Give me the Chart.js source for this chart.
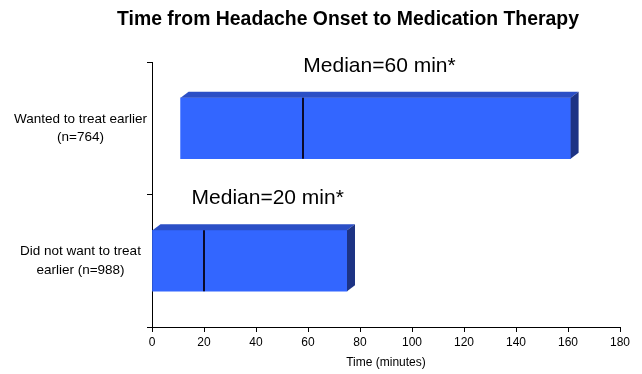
<!DOCTYPE html>
<html>
<head>
<meta charset="utf-8">
<script src="https://cdn.jsdelivr.net/npm/chart.js@4/dist/chart.umd.min.js"></script>
<style>
  html, body { margin: 0; padding: 0; background: #fff; }
  canvas { display: block; }
</style>
</head>
<body>
<canvas id="onset-chart" width="642" height="374"></canvas>
<script>
// data
const categories = [['Wanted to treat earlier', '(n=764)'], ['Did not want to treat', 'earlier (n=988)']];
const ranges = [[11, 161], [0, 75]];
const medians = [58, 20];
const medianLabels = ['Median=60 min*', 'Median=20 min*'];
const labelCenters = [87.5, 44.5]; // x value where each label is centred
const xTicks = [0, 20, 40, 60, 80, 100, 120, 140, 160, 180];

const FONT = '"Liberation Sans", Arial, Helvetica, sans-serif';

// draws the fake 3d faces, the median lines and the median labels
const boxes3d = {
  id: 'boxes3d',
  afterDatasetsDraw(chart) {
    const ctx = chart.ctx;
    const xs = chart.scales.x;
    const d = 8, dy = 6;
    chart.getDatasetMeta(0).data.forEach((bar, i) => {
      const p = bar.getProps(['x', 'y', 'base', 'height'], true);
      const left = Math.min(p.x, p.base), right = Math.max(p.x, p.base);
      const top = p.y - p.height / 2, bottom = p.y + p.height / 2;
      ctx.save();
      ctx.fillStyle = '#2b4fc6';
      ctx.beginPath();
      ctx.moveTo(left, top);
      ctx.lineTo(left + d, top - dy);
      ctx.lineTo(right + d, top - dy);
      ctx.lineTo(right, top);
      ctx.closePath();
      ctx.fill();
      ctx.fillStyle = '#1d3384';
      ctx.beginPath();
      ctx.moveTo(right, top);
      ctx.lineTo(right + d, top - dy);
      ctx.lineTo(right + d, bottom - dy);
      ctx.lineTo(right, bottom);
      ctx.closePath();
      ctx.fill();

      const mx = Math.round(xs.getPixelForValue(medians[i]));
      ctx.strokeStyle = '#0a0a2a';
      ctx.lineWidth = 2;
      ctx.beginPath();
      ctx.moveTo(mx, top);
      ctx.lineTo(mx, bottom);
      ctx.stroke();

      ctx.fillStyle = '#000';
      ctx.font = '21px ' + FONT;
      ctx.textAlign = 'center';
      ctx.textBaseline = 'alphabetic';
      ctx.fillText(medianLabels[i], xs.getPixelForValue(labelCenters[i]), top - 26);
      ctx.restore();
    });

    ctx.save();
    ctx.fillStyle = '#000';
    ctx.font = 'bold 19.4px ' + FONT;
    ctx.textAlign = 'center';
    ctx.textBaseline = 'alphabetic';
    ctx.fillText('Time from Headache Onset to Medication Therapy', 348, 25);
    ctx.restore();
  }
};

new Chart(document.getElementById('onset-chart'), {
  type: 'bar',
  data: {
    labels: categories,
    datasets: [{
      data: ranges,
      backgroundColor: '#3366ff',
      borderWidth: 0,
      barThickness: 61
    }]
  },
  plugins: [boxes3d],
  options: {
    indexAxis: 'y',
    responsive: false,
    animation: false,
    layout: {
      padding: { top: 62, right: 22, left: 0, bottom: 0 }
    },
    plugins: {
      legend: { display: false },
      tooltip: { enabled: false }
    },
    scales: {
      x: {
        type: 'linear',
        min: 0,
        max: 180,
        afterBuildTicks: (scale) => { scale.ticks = xTicks.map(v => ({ value: v })); },
        afterFit: (scale) => { scale.height = 47; },
        border: { color: '#000', width: 1 },
        grid: { drawOnChartArea: false, tickLength: 5, color: '#000' },
        ticks: { color: '#000', padding: 3, font: { family: FONT, size: 12 } },
        title: {
          display: true,
          text: 'Time (minutes)',
          color: '#000',
          font: { family: FONT, size: 12 },
          padding: { top: 2, bottom: 4 }
        }
      },
      y: {
        afterFit: (scale) => { scale.width = 152; },
        border: { color: '#000', width: 1 },
        grid: { offset: true, drawOnChartArea: false, tickLength: 5, color: '#000' },
        ticks: {
          color: '#000',
          padding: 0,
          crossAlign: 'center',
          font: { family: FONT, size: 13.5, lineHeight: 1.4 }
        }
      }
    }
  }
});
</script>
</body>
</html>
